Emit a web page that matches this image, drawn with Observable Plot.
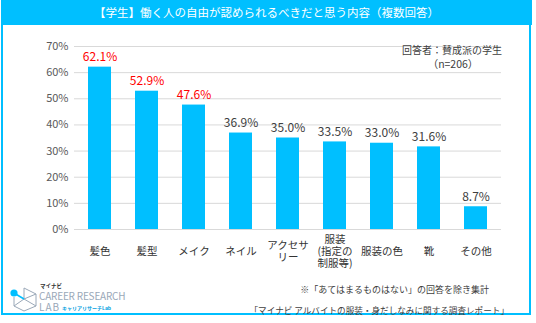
<!DOCTYPE html>
<html><head><meta charset="utf-8">
<script src="https://cdn.jsdelivr.net/npm/d3@7"></script>
<script src="https://cdn.jsdelivr.net/npm/@observablehq/plot@0.6"></script>
<style>
body{margin:0;background:#fff;font-family:"Noto Sans CJK JP","Noto Sans",sans-serif;}
#wrap{position:relative;width:536px;height:323px;overflow:hidden;}
#frame{position:absolute;left:1px;top:0;width:526px;height:313px;border:2.5px solid #00BFFF;border-top:none;}
#title{position:absolute;left:1px;top:0;width:531px;height:25px;background:#00BFFF;color:#fff;font-size:11.5px;line-height:25px;text-align:center;}
#chart{position:absolute;left:0;top:0;}
.note{position:absolute;color:#404040;white-space:nowrap;}
</style></head>
<body><div id="wrap">
<div id="frame"></div>
<div id="chart"></div>
<div id="title">【学生】働く人の自由が認められるべきだと思う内容（複数回答）</div>
<div class="note" style="left:402px;top:42px;font-size:10px;line-height:16px;">回答者：賛成派の学生</div>
<div class="note" style="left:403px;top:56px;width:100px;text-align:center;font-size:10.5px;line-height:16px;">（n=206）</div>
<div class="note" style="right:47px;top:283px;font-size:9px;line-height:14px;">※「あてはまるものはない」の回答を除き集計</div>
<div class="note" style="right:27px;top:303px;font-size:8.6px;line-height:14px;">「マイナビ アルバイトの服装・身だしなみに関する調査レポート」</div>
<div style="position:absolute;left:9px;top:286px;">
<svg width="30" height="26" viewBox="0 0 30 26">
<g fill="none" stroke="#9aa8b8" stroke-width="1">
<path d="M15 2 L27 8 L27 20 L15 25 L5 20 L5 11"/>
<path d="M15 2 L15 13 L27 8"/>
<path d="M15 13 L5 20"/>
<path d="M15 13 L27 20"/>
</g>
<line x1="5" y1="7" x2="15" y2="13" stroke="#00BFFF" stroke-width="1.5"/>
<circle cx="5" cy="7" r="3.6" fill="#00BFFF"/>
</svg></div>
<div class="note" style="left:40px;top:283px;font-size:5.5px;line-height:7px;font-weight:bold;color:#333;">マイナビ</div>
<div class="note" style="left:39px;top:290px;font-size:10px;line-height:11px;color:#9aa8b8;letter-spacing:-0.2px;">CAREER RESEARCH</div>
<div class="note" style="left:39px;top:301px;font-size:10px;line-height:11px;color:#9aa8b8;letter-spacing:1px;">LAB</div>
<div class="note" style="left:62px;top:304px;font-size:5px;line-height:7px;color:#00A0E0;font-weight:bold;">キャリアリサーチLab</div>
</div>
<script>
const categories = ["髪色","髪型","メイク","ネイル","アクセサ\nリー","服装\n(指定の\n制服等)","服装の色","靴","その他"];
const values = [62.1, 52.9, 47.6, 36.9, 35.0, 33.5, 33.0, 31.6, 8.7];
const highlighted = [true, true, true, false, false, false, false, false, false];
const yTicks = [0,10,20,30,40,50,60,70];

const data = categories.map((c,i)=>({cat:c, v:values[i], hi:highlighted[i]}));

const chart = Plot.plot({
  width: 536,
  height: 290,
  marginLeft: 74,
  marginRight: 35,
  marginTop: 46,
  marginBottom: 61,
  style: {fontFamily: '"Noto Sans CJK JP","Noto Sans",sans-serif', background: "transparent"},
  x: {domain: categories, paddingInner: 0.51, paddingOuter: 0.255, axis: null},
  y: {domain: [0,70], axis: null},
  marks: [
    Plot.gridY(yTicks, {stroke: "#d9d9d9", strokeOpacity: 1, strokeWidth: 1}),
    Plot.axisY(yTicks, {tickSize: 0, tickPadding: 6, tickFormat: d => d + "%", fontSize: 11, fill: "#595959"}),
    Plot.barY(data, {x: "cat", y: "v", fill: "#00BFFF"}),
    Plot.text(data, {x: "cat", y: "v", text: d => d.v.toFixed(1) + "%", dy: -10, fontSize: 12, fill: d => d.hi ? "#FF0000" : "#404040"}),
    Plot.text(data, {x: "cat", y: 0, text: "cat", dy: 22, fontSize: 10.5, lineHeight: 1.15, lineAnchor: "middle", fill: "#333333"})
  ]
});
document.getElementById("chart").appendChild(chart);
</script>
</body></html>
